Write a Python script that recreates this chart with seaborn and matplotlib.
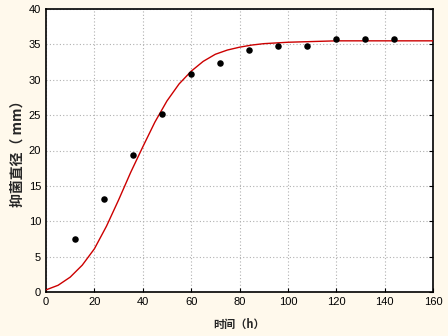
import matplotlib
matplotlib.use("Agg")
import matplotlib.pyplot as plt
import seaborn as sns
import pandas as pd

# observed data
time_h = [12, 24, 36, 48, 60, 72, 84, 96, 108, 120, 132, 144]
diameter = [7.5, 13.2, 19.3, 25.1, 30.8, 32.3, 34.2, 34.8, 34.7, 35.8, 35.8, 35.8]

# fitted curve
curve_x = [0, 5, 10, 15, 20, 25, 30, 35, 40, 45, 50, 55, 60, 65, 70, 75, 80, 85, 90, 100, 110, 120, 160]
curve_y = [0.3, 0.95, 2.1, 3.8, 6.1, 9.3, 13.0, 16.9, 20.5, 24.0, 27.0, 29.4, 31.2, 32.6, 33.6, 34.2, 34.6, 34.9, 35.1, 35.3, 35.4, 35.5, 35.5]

x_ticks = [0, 20, 40, 60, 80, 100, 120, 140, 160]
y_ticks = [0, 5, 10, 15, 20, 25, 30, 35, 40]

sns.set_theme(style="white")
plt.rcParams['font.family'] = ['Liberation Sans', 'Noto Sans CJK SC', 'DejaVu Sans']

bg = "#FFF9EC"
fig = plt.figure(figsize=(4.48, 3.36), dpi=100, facecolor=bg)
ax = fig.add_axes([46/448, 44/336, 387/448, 283/336])
ax.set_facecolor("white")

df_pts = pd.DataFrame({"t": time_h, "d": diameter})
df_cur = pd.DataFrame({"t": curve_x, "d": curve_y})

sns.lineplot(data=df_cur, x="t", y="d", ax=ax, color="#CC0000", linewidth=1.0, zorder=3)
sns.scatterplot(data=df_pts, x="t", y="d", ax=ax, color="black", s=22, edgecolor="black", linewidth=0, zorder=4)

ax.set_xlim(0, 160)
ax.set_ylim(0, 40)
ax.set_xticks(x_ticks)
ax.set_yticks(y_ticks)
ax.tick_params(axis='both', labelsize=8, colors='black', direction='in', length=3, width=0.8,
               right=True, top=False, left=False, bottom=True)
ax.tick_params(axis='y', labelright=False)
ax.grid(True, color="#B0B0B0", linestyle=(0, (1, 2)), linewidth=0.8)
for s in ax.spines.values():
    s.set_color("black")
    s.set_linewidth(1.2)

ax.set_xlabel("时间（h）", fontsize=8, fontweight='bold', family=['Noto Sans CJK SC', 'DejaVu Sans'], labelpad=8)
ax.set_ylabel("抑菌直径（ mm）", fontsize=10, fontweight='bold', family=['Noto Sans CJK SC', 'DejaVu Sans'], labelpad=3)

fig.savefig("out.png", dpi=100, facecolor=bg)
